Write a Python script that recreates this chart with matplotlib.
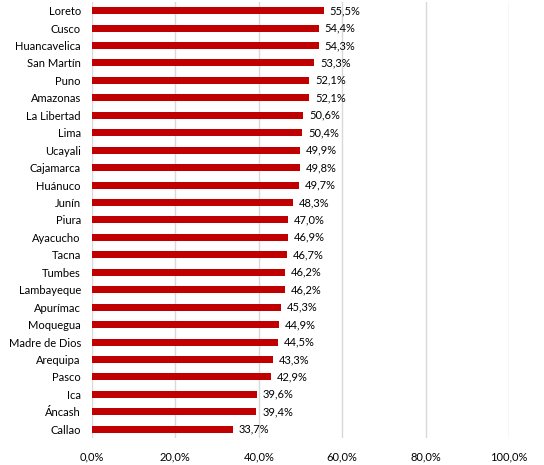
import matplotlib
matplotlib.use('Agg')
from matplotlib import pyplot as plt
from matplotlib.ticker import FuncFormatter

# DATA
REGIONS = ['Loreto', 'Cusco', 'Huancavelica', 'San Martín', 'Puno', 'Amazonas', 'La Libertad',
           'Lima', 'Ucayali', 'Cajamarca', 'Huánuco', 'Junín', 'Piura', 'Ayacucho', 'Tacna',
           'Tumbes', 'Lambayeque', 'Apurímac', 'Moquegua', 'Madre de Dios', 'Arequipa',
           'Pasco', 'Ica', 'Áncash', 'Callao']
VALUES = [55.5, 54.4, 54.3, 53.3, 52.1, 52.1, 50.6, 50.4, 49.9, 49.8, 49.7, 48.3, 47.0, 46.9,
          46.7, 46.2, 46.2, 45.3, 44.9, 44.5, 43.3, 42.9, 39.6, 39.4, 33.7]
TICKS = [0, 20, 40, 60, 80, 100]

plt.rcParams['font.family'] = ['Lato', 'DejaVu Sans']
plt.rcParams['font.size'] = 8.0

fig = plt.figure(figsize=(5.44, 4.65), dpi=100)
fig.subplots_adjust(left=0.169, right=0.936, top=0.996, bottom=0.058)
ax = fig.add_subplot(111)

pos = list(range(len(REGIONS)))
ax.barh(pos, VALUES, height=0.4, color='#C00000', zorder=3)
for p, v in zip(pos, VALUES):
    ax.text(v + 1.4, p, f'{v:.1f}%'.replace('.', ','), va='center', ha='left', color='black', zorder=4)

ax.set_yticks(pos)
ax.set_yticklabels(REGIONS)
ax.set_ylim(len(REGIONS) - 0.5, -0.5)
ax.set_xlim(0, 100)
ax.set_xticks(TICKS)
ax.xaxis.set_major_formatter(FuncFormatter(lambda x, _: f'{x:.1f}%'.replace('.', ',')))
ax.grid(axis='x', color='#D9D9D9', linewidth=1, zorder=0)
ax.tick_params(length=0, pad=8)
ax.tick_params(axis='x', pad=10)
for s in ax.spines.values():
    s.set_visible(False)

fig.savefig('out.png', dpi=100)
